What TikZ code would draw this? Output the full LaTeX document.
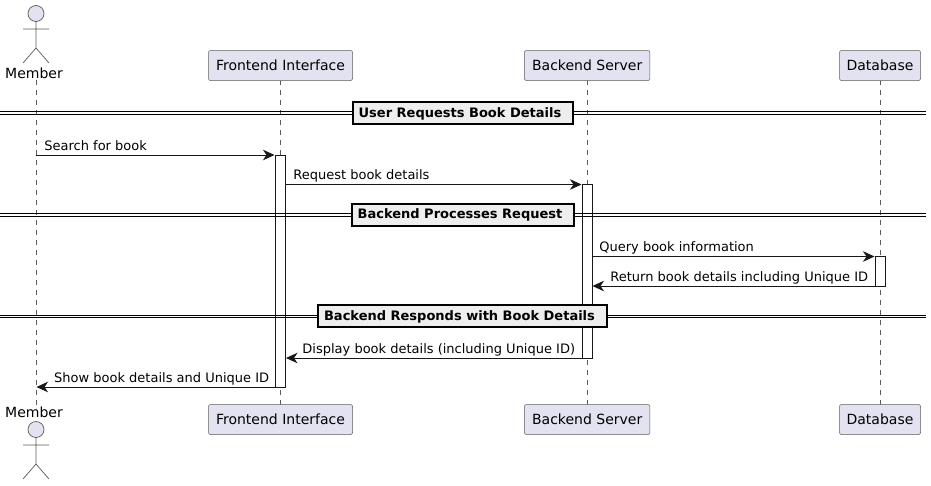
\documentclass[tikz,border=0pt]{standalone}
\usepackage{fontspec}
\setmainfont{DejaVu Sans}
\usetikzlibrary{arrows.meta}
\definecolor{partfill}{HTML}{E2E2F0}
\definecolor{partline}{HTML}{5B5B5B}
\definecolor{inkdark}{HTML}{181818}
\definecolor{divfill}{HTML}{EEEEEE}
\tikzset{
  x=1pt,y=-1pt,
  lbl/.style={font=\fontsize{13}{15}\selectfont,text=black,inner sep=0pt},
  part/.style={draw=partline,fill=partfill,rounded corners=2pt,line width=.5pt,minimum height=30pt,inner sep=0pt,font=\fontsize{14}{16}\selectfont,text=black},
  actorhead/.style={circle,draw=partline,fill=partfill,line width=.7pt,minimum size=16pt,inner sep=0pt},
  actorline/.style={draw=partline,line width=.7pt},
  actorname/.style={inner sep=0pt,font=\fontsize{14}{16}\selectfont,text=black},
  life/.style={draw=partline,line width=.5pt,dash pattern=on 5pt off 5pt},
  activ/.style={draw=inkdark,fill=white,line width=.8pt},
  msg/.style={draw=inkdark,line width=.8pt,-{Stealth[length=11.5pt,width=10.5pt,inset=3.5pt]}},
  divbox/.style={draw=black,fill=divfill,line width=2pt,inner sep=0pt,text height=11pt,text depth=3pt,minimum height=22pt,font=\bfseries\fontsize{13}{15}\selectfont,text=black},
  divline/.style={draw=black,line width=.9pt},
}
\begin{document}
\begin{tikzpicture}
\useasboundingbox (0,0) rectangle (931,485);
% lifelines
\coordinate (mT) at (36,80); \coordinate (mB) at (36,405);
\coordinate (fT) at (280.5,80); \coordinate (fB) at (280.5,405);
\coordinate (bT) at (587,80); \coordinate (bB) at (587,405);
\coordinate (dT) at (880,80); \coordinate (dB) at (880,405);
\draw[life] (mT) -- (mB);
\draw[life] (fT) -- (fB);
\draw[life] (bT) -- (bB);
\draw[life] (dT) -- (dB);
% participants
\node[part,minimum width=144pt] (ft) at (280.5,65.5) {Frontend Interface};
\node[part,minimum width=125.5pt] (bt) at (587.2,65.5) {Backend Server};
\node[part,minimum width=81pt] (dt) at (880,65.5) {Database};
\node[part,minimum width=144pt] (fb) at (280.5,419.5) {Frontend Interface};
\node[part,minimum width=125.5pt] (bb) at (587.2,419.5) {Backend Server};
\node[part,minimum width=81pt] (db) at (880,419.5) {Database};
% actors
\node[actorhead] (h1) at (36,13.5) {};
\coordinate (la1) at (23,29); \coordinate (ra1) at (49,29);
\coordinate (w1) at (36,48); \coordinate (ll1) at (23,63); \coordinate (rl1) at (49,63);
\draw[actorline] (h1) -- (w1) -- (ll1) (w1) -- (rl1) (la1) -- (ra1);
\node[actorname] (m1) at (34,73) {Member};
\node[actorhead] (h2) at (36,429.5) {};
\coordinate (la2) at (23,445); \coordinate (ra2) at (49,445);
\coordinate (w2) at (36,464); \coordinate (ll2) at (23,479); \coordinate (rl2) at (49,479);
\draw[actorline] (h2) -- (w2) -- (ll2) (w2) -- (rl2) (la2) -- (ra2);
\node[actorname] (m2) at (34,412) {Member};
% activations
\node[activ,minimum width=10pt,minimum height=232pt,inner sep=0pt] (af) at (280.5,271) {};
\node[activ,minimum width=10pt,minimum height=174pt,inner sep=0pt] (ab) at (587,271) {};
\node[activ,minimum width=10pt,minimum height=30pt,inner sep=0pt] (ad) at (880,271) {};
% dividers
\node[divbox,minimum width=220pt] (d1) at (463,113) {User Requests Book Details\kern6pt};
\draw[divline] (0,111.7) -- (d1.west |- 0,111.7) (d1.east |- 0,111.7) -- (925.5,111.7);
\draw[divline] (0,114.3) -- (d1.west |- 0,114.3) (d1.east |- 0,114.3) -- (925.5,114.3);
\node[divbox,minimum width=222pt] (d2) at (463,214.7) {Backend Processes Request\kern6pt};
\draw[divline] (0,213.5) -- (d2.west |- 0,213.5) (d2.east |- 0,213.5) -- (925.5,213.5);
\draw[divline] (0,216) -- (d2.west |- 0,216) (d2.east |- 0,216) -- (925.5,216);
\node[divbox,minimum width=289pt] (d3) at (462.5,316.3) {Backend Responds with Book Details\kern6pt};
\draw[divline] (0,315) -- (d3.west |- 0,315) (d3.east |- 0,315) -- (925.5,315);
\draw[divline] (0,317.5) -- (d3.west |- 0,317.5) (d3.east |- 0,317.5) -- (925.5,317.5);
% messages
\coordinate (s1) at (36,155); \coordinate (e1) at (274.5,155);
\draw[msg] (s1) -- (e1) node[lbl,anchor=base west,pos=0,xshift=8pt,yshift=5pt] (t1) {Search for book};
\coordinate (s2) at (285.5,184.5); \coordinate (e2) at (581.5,184.5);
\draw[msg] (s2) -- (e2) node[lbl,anchor=base west,pos=0,xshift=7.5pt,yshift=5pt] (t2) {Request book details};
\coordinate (s3) at (592,256.5); \coordinate (e3) at (874.5,256.5);
\draw[msg] (s3) -- (e3) node[lbl,anchor=base west,pos=0,xshift=7pt,yshift=5pt] (t3) {Query book information};
\coordinate (s4) at (875,286); \coordinate (e4) at (592.5,286);
\draw[msg] (s4) -- (e4) node[lbl,anchor=base east,pos=0,xshift=-6.5pt,yshift=5pt] (t4) {Return book details including Unique ID};
\coordinate (s5) at (582,358); \coordinate (e5) at (286,358);
\draw[msg] (s5) -- (e5) node[lbl,anchor=base east,pos=0,xshift=-6.5pt,yshift=5pt] (t5) {Display book details (including Unique ID)};
\coordinate (s6) at (275.5,387); \coordinate (e6) at (36.5,387);
\draw[msg] (s6) -- (e6) node[lbl,anchor=base east,pos=0,xshift=-6pt,yshift=5pt] (t6) {Show book details and Unique ID};
\end{tikzpicture}
\end{document}
